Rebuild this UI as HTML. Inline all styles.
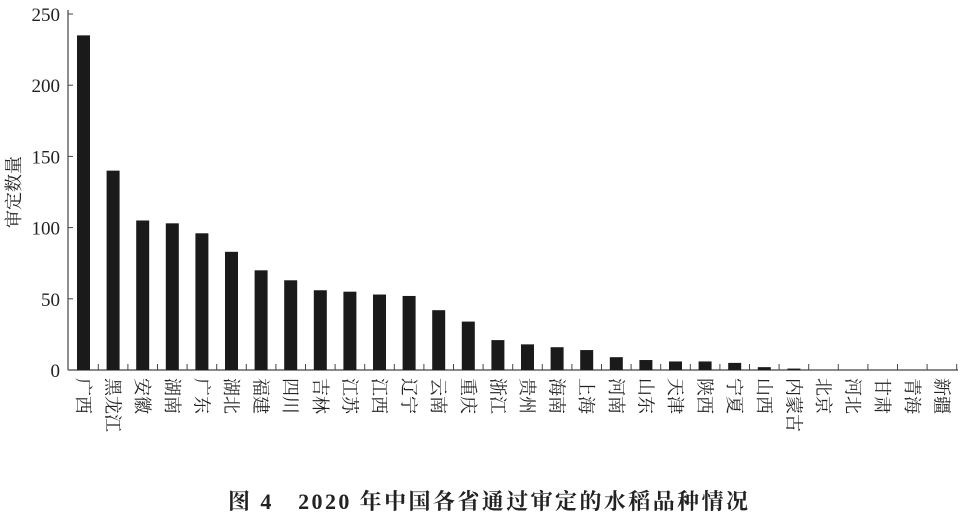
<!DOCTYPE html>
<html><head><meta charset="utf-8"><style>
body{margin:0;background:#fff;width:960px;height:516px;overflow:hidden}
text{font-family:"Liberation Serif","Noto Serif CJK SC",serif;fill:#222}
</style></head><body>
<svg id="s" width="960" height="516" xmlns="http://www.w3.org/2000/svg"></svg>
<script>
const s=document.getElementById('s');
const names=["广西","黑龙江","安徽","湖南","广东","湖北","福建","四川","吉林","江苏","江西","辽宁","云南","重庆","浙江","贵州","海南","上海","河南","山东","天津","陕西","宁夏","山西","内蒙古","北京","河北","甘肃","青海","新疆"];
const vals=[235,140,105,103,96,83,70,63,56,55,53,52,42,34,21,18,16,14,9,7,6,6,5,2,1,0,0,0,0,0];
let h='';
const y0=370,k=(370-14)/250,x0=68,sp=29.6;
h+=`<line x1="${x0}" y1="10" x2="${x0}" y2="${y0}" stroke="#444" stroke-width="1.2"/>`;
h+=`<line x1="${x0}" y1="${y0}" x2="958" y2="${y0}" stroke="#444" stroke-width="1.2"/>`;
for(let v=0;v<=250;v+=50){const y=y0-v*k;
h+=`<line x1="${x0}" y1="${y}" x2="${x0+5}" y2="${y}" stroke="#444"/>`;
h+=`<text x="${x0-8}" y="${y+7}" font-size="19" text-anchor="end">${v}</text>`;}
for(let i=0;i<30;i++){const c=83.5+i*sp;const bh=vals[i]*k;
if(bh>0)h+=`<rect x="${c-6.5}" y="${y0-bh}" width="13" height="${bh}" fill="#1a1a1a"/>`;
const tx=c+sp/2;h+=`<line x1="${tx}" y1="${y0}" x2="${tx}" y2="${y0-6}" stroke="#444"/>`;
h+=`<text transform="translate(${c-6.5},378) rotate(90)" font-size="18">${names[i]}</text>`;}
h+=`<text transform="translate(20,192) rotate(-90)" font-size="18" text-anchor="middle">审定数量</text>`;
h+=`<text x="228" y="509" font-size="22" font-weight="bold" textLength="520" lengthAdjust="spacing">图 4　2020 年中国各省通过审定的水稻品种情况</text>`;
s.innerHTML=h;
</script>
</body></html>
